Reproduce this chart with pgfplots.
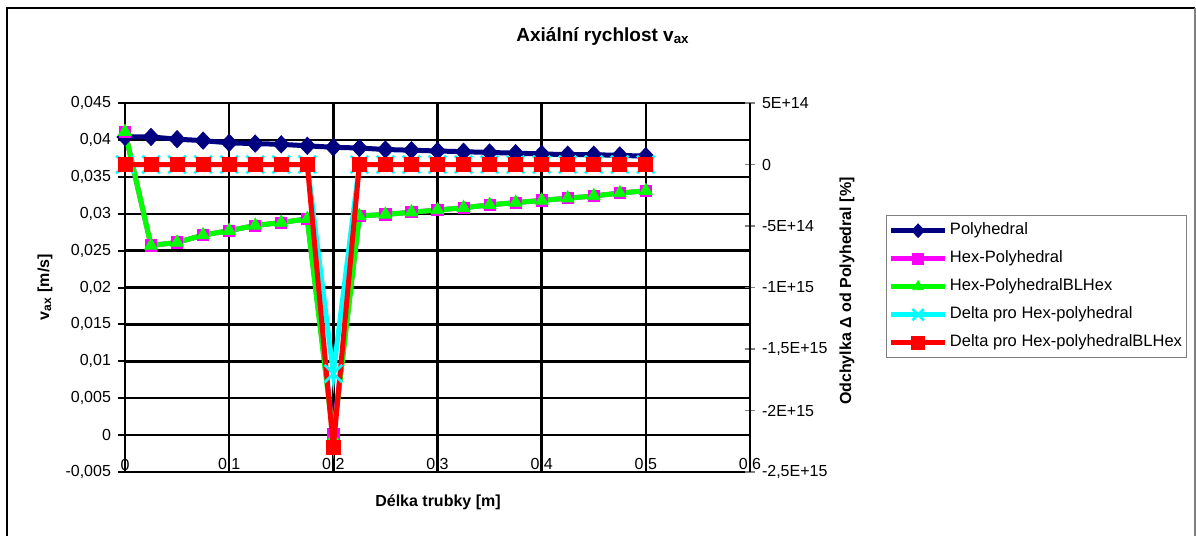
\documentclass[border=0pt]{standalone}
\usepackage{pgfplots}
\pgfplotsset{compat=1.18}
\usepackage{fontspec}
\setmainfont{Liberation Sans}
\definecolor{navyc}{RGB}{0,0,128}
\definecolor{magc}{RGB}{255,0,255}
\definecolor{grnc}{RGB}{0,255,0}
\definecolor{cyac}{RGB}{0,255,255}
\definecolor{redc}{RGB}{255,0,0}
\pgfplotsset{
  spoly/.style={color=navyc, line width=2.5pt, mark=diamond*, mark size=4.3pt, mark options={solid, fill=navyc, draw=navyc, line width=0.4pt, xscale=1.25}},
  shex/.style={color=magc, line width=2.5pt, mark=square*, mark size=2.8pt, mark options={solid, fill=magc, draw=magc, line width=0.4pt}},
  shexbl/.style={color=grnc, line width=2.5pt, mark=triangle*, mark size=3.7pt, mark options={solid, fill=grnc, draw=grnc, line width=0.4pt}},
  sdelta/.style={color=cyac, line width=2.5pt, mark=x, mark size=6.2pt, mark options={solid, draw=cyac, line width=1.3pt}},
  sdeltabl/.style={color=redc, line width=2.5pt, mark=square*, mark size=3.5pt, mark options={solid, fill=redc, draw=redc, line width=0.4pt}},
}
\newcommand{\tf}{\fontsize{8}{9.6}\selectfont}
\begin{document}
\begin{tikzpicture}
\useasboundingbox (-62.5pt,-32pt) rectangle (535.5pt,236pt);
\draw[black, line width=1pt] (-59pt,-40pt) -- (-59pt,232pt) -- (535pt,232pt);
\draw[gray, line width=0.8pt] (535pt,232pt) -- (535pt,-40pt);
\begin{axis}[
  at={(0pt,0pt)}, anchor=south west,
  scale only axis, width=312.5pt, height=184.5pt,
  xmin=0, xmax=0.6, ymin=-0.005, ymax=0.045,
  clip=false,
  xtick={0,0.1,0.2,0.3,0.4,0.5,0.6},
  xticklabels={0,{0,1},{0,2},{0,3},{0,4},{0,5},{0,6}},
  ytick={-0.005,0,0.005,0.01,0.015,0.02,0.025,0.03,0.035,0.04,0.045},
  yticklabels={{-0,005},0,{0,005},{0,01},{0,015},{0,02},{0,025},{0,03},{0,035},{0,04},{0,045}},
  scaled ticks=false,
  xtick pos=bottom, ytick pos=left,
  tick align=outside, major tick length=3.5pt,
  xtick style={draw=none},
  ytick style={black, line width=1pt},
  grid=major, major grid style={black, line width=1.2pt},
  axis line style={black, line width=1.2pt},
  tick label style={font=\tf},
  xticklabel style={anchor=center, yshift=7pt},
  every axis x label/.style={at={(axis description cs:0.5008,-0.0813)}, anchor=center, font=\bfseries\tf},
  every axis y label/.style={at={(axis description cs:-0.128,0.501)}, anchor=center, rotate=90, font=\bfseries\tf},
  every axis title/.style={at={(axis description cs:0.7648,1.1789)}, anchor=center, font=\bfseries\fontsize{9.5}{11}\selectfont},
  xlabel={Délka trubky [m]},
  ylabel={v\textsubscript{ax} [m/s]},
  title={Axiální rychlost v\textsubscript{ax}},
]
\addplot[spoly] coordinates {
(0,0.0404) (0.025,0.0404) (0.05,0.0401) (0.075,0.0399) (0.1,0.0396) (0.125,0.0395) (0.15,0.0394) (0.175,0.0392) (0.2,0.0390) (0.225,0.0389) (0.25,0.0387) (0.275,0.0386) (0.3,0.0385) (0.325,0.0384) (0.35,0.0383) (0.375,0.0382) (0.4,0.0381) (0.425,0.0380) (0.45,0.0380) (0.475,0.0379) (0.5,0.0378)};
\addplot[shex] coordinates {
(0,0.0411) (0.025,0.0257) (0.05,0.0261) (0.075,0.0271) (0.1,0.0277) (0.125,0.0284) (0.15,0.0288) (0.175,0.0293) (0.2,0.0002) (0.225,0.0297) (0.25,0.0299) (0.275,0.0302) (0.3,0.0305) (0.325,0.0308) (0.35,0.0312) (0.375,0.0315) (0.4,0.0318) (0.425,0.0321) (0.45,0.0324) (0.475,0.0328) (0.5,0.0331)};
\addplot[shexbl] coordinates {
(0,0.0411) (0.025,0.0257) (0.05,0.0261) (0.075,0.0271) (0.1,0.0277) (0.125,0.0284) (0.15,0.0288) (0.175,0.0293) (0.2,-0.0004) (0.225,0.0297) (0.25,0.0299) (0.275,0.0302) (0.3,0.0305) (0.325,0.0308) (0.35,0.0312) (0.375,0.0315) (0.4,0.0318) (0.425,0.0321) (0.45,0.0324) (0.475,0.0328) (0.5,0.0331)};
\end{axis}
\begin{axis}[
  at={(0pt,0pt)}, anchor=south west,
  scale only axis, width=312.5pt, height=184.5pt,
  xmin=0, xmax=0.6, ymin=-2.5e15, ymax=5e14,
  clip=false,
  axis x line=none, axis y line*=right,
  ytick={-2.5e15,-2e15,-1.5e15,-1e15,-5e14,0,5e14},
  yticklabels={{-2,5E+15},{-2E+15},{-1,5E+15},{-1E+15},{-5E+14},0,{5E+14}},
  scaled ticks=false,
  tick align=center, major tick length=5pt,
  ytick style={gray, line width=0.6pt},
  axis line style={black, line width=1.2pt},
  tick label style={font=\tf},
  every axis y label/.style={at={(axis description cs:1.1552,0.49)}, anchor=center, rotate=90, font=\bfseries\tf},
  ylabel={Odchylka Δ od Polyhedral [\%]},
  legend image code/.code={\draw[mark repeat=2,mark phase=2,#1] plot coordinates {(0pt,0pt) (13.5pt,0pt) (27pt,0pt)};},
  legend style={at={(axis description cs:1.2176,0.6965)}, anchor=north west, draw=gray, line width=0.6pt, fill=white, font=\fontsize{8.25}{9.9}\selectfont, inner xsep=1pt, inner ysep=2.5pt, row sep=3.9pt, nodes={inner sep=1.2pt, text height=6pt, text depth=1.7pt}, cells={anchor=west}},
  legend cell align=left,
]
\addlegendimage{spoly, mark size=3.4pt}
\addlegendentry{Polyhedral}
\addlegendimage{shex}
\addlegendentry{Hex-Polyhedral}
\addlegendimage{shexbl, mark size=3pt}
\addlegendentry{Hex-PolyhedralBLHex}
\addlegendimage{sdelta, mark size=4pt}
\addlegendentry{Delta pro Hex-polyhedral}
\addlegendimage{sdeltabl, mark size=3.2pt}
\addlegendentry{Delta pro Hex-polyhedralBLHex}
\addplot[sdelta, forget plot] coordinates {
(0,0) (0.025,0) (0.05,0) (0.075,0) (0.1,0) (0.125,0) (0.15,0) (0.175,0) (0.2,-1.7e15) (0.225,0) (0.25,0) (0.275,0) (0.3,0) (0.325,0) (0.35,0) (0.375,0) (0.4,0) (0.425,0) (0.45,0) (0.475,0) (0.5,0)};
\addplot[sdeltabl, forget plot] coordinates {
(0,0) (0.025,0) (0.05,0) (0.075,0) (0.1,0) (0.125,0) (0.15,0) (0.175,0) (0.2,-2.3e15) (0.225,0) (0.25,0) (0.275,0) (0.3,0) (0.325,0) (0.35,0) (0.375,0) (0.4,0) (0.425,0) (0.45,0) (0.475,0) (0.5,0)};
\end{axis}
\end{tikzpicture}
\end{document}
